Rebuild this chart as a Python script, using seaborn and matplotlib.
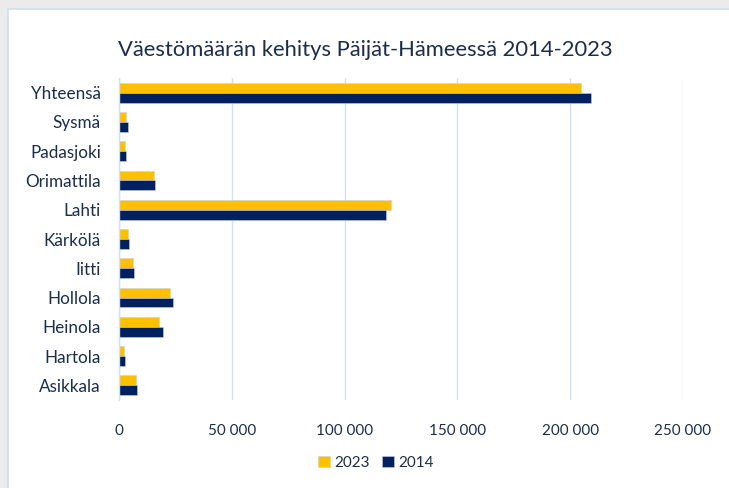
import matplotlib
matplotlib.use("Agg")
import matplotlib.pyplot as plt
import seaborn as sns
import pandas as pd
from matplotlib.patches import Rectangle
from matplotlib.ticker import FuncFormatter

categories = ["Yhteensä", "Sysmä", "Padasjoki", "Orimattila", "Lahti", "Kärkölä",
              "Iitti", "Hollola", "Heinola", "Hartola", "Asikkala"]
values_2023 = [204600, 3300, 2600, 15500, 120500, 3900, 6300, 22800, 17800, 2400, 7700]
values_2014 = [209000, 3800, 3000, 16100, 118400, 4400, 6800, 23800, 19400, 2800, 8200]
years = ["2023", "2014"]
xticks = [0, 50000, 100000, 150000, 200000, 250000]

df = pd.DataFrame({
    "kunta": categories * 2,
    "vuosi": [years[0]] * len(categories) + [years[1]] * len(categories),
    "asukkaat": values_2023 + values_2014,
})

sns.set_theme(style="white")
plt.rcParams["font.family"] = ["Lato", "DejaVu Sans"]
text_color = "#1b2f4b"

fig = plt.figure(figsize=(7.29, 4.88), dpi=100)
fig.patch.set_facecolor("#ebebeb")
# white panel with light blue border
panel = Rectangle((8 / 729, -0.02), 1.0, 1 - 9 / 488 + 0.02, transform=fig.transFigure,
                  facecolor="white", edgecolor="#cfe0f0", linewidth=1.2, zorder=-10)
fig.patches.append(panel)

ax = fig.add_axes([119 / 729, 1 - 400 / 488, (683 - 119) / 729, (400 - 78) / 488])
ax.set_facecolor("none")
ax.set_zorder(5)

sns.barplot(data=df, y="kunta", x="asukkaat", hue="vuosi", order=categories,
            hue_order=years, palette={"2023": "#ffc000", "2014": "#002060"},
            orient="h", width=0.68, gap=0, ax=ax, edgecolor="#c8cfdc", linewidth=0.4,
            legend=True, saturation=1)

ax.set_xlim(0, 250000)
ax.set_xticks(xticks)
ax.xaxis.set_major_formatter(FuncFormatter(lambda v, p: f"{int(v):,}".replace(",", " ")))
ax.grid(axis="x", color="#cfe2f3", linewidth=1.0)
ax.set_axisbelow(True)
for s in ["top", "right", "bottom"]:
    ax.spines[s].set_visible(False)
ax.spines["left"].set_color("#cfe2f3")
ax.spines["left"].set_linewidth(1.0)
ax.set_xlabel("")
ax.set_ylabel("")
ax.tick_params(axis="y", length=0, pad=13, labelsize=12.3, labelcolor=text_color)
ax.tick_params(axis="x", length=0, pad=17, labelsize=11, labelcolor=text_color)

fig.text(365 / 729, 1 - 50 / 488, "Väestömäärän kehitys Päijät-Hämeessä 2014-2023",
         ha="center", va="center", fontsize=15.8, color=text_color)

leg = ax.legend(loc="center", bbox_to_anchor=(376 / 729, 1 - 463 / 488),
                bbox_transform=fig.transFigure, ncol=2, frameon=False,
                fontsize=11, handlelength=0.75, handleheight=0.75,
                handletextpad=0.3, columnspacing=0.8)
for t in leg.get_texts():
    t.set_color(text_color)

fig.savefig("out.png", dpi=100, facecolor=fig.get_facecolor())
